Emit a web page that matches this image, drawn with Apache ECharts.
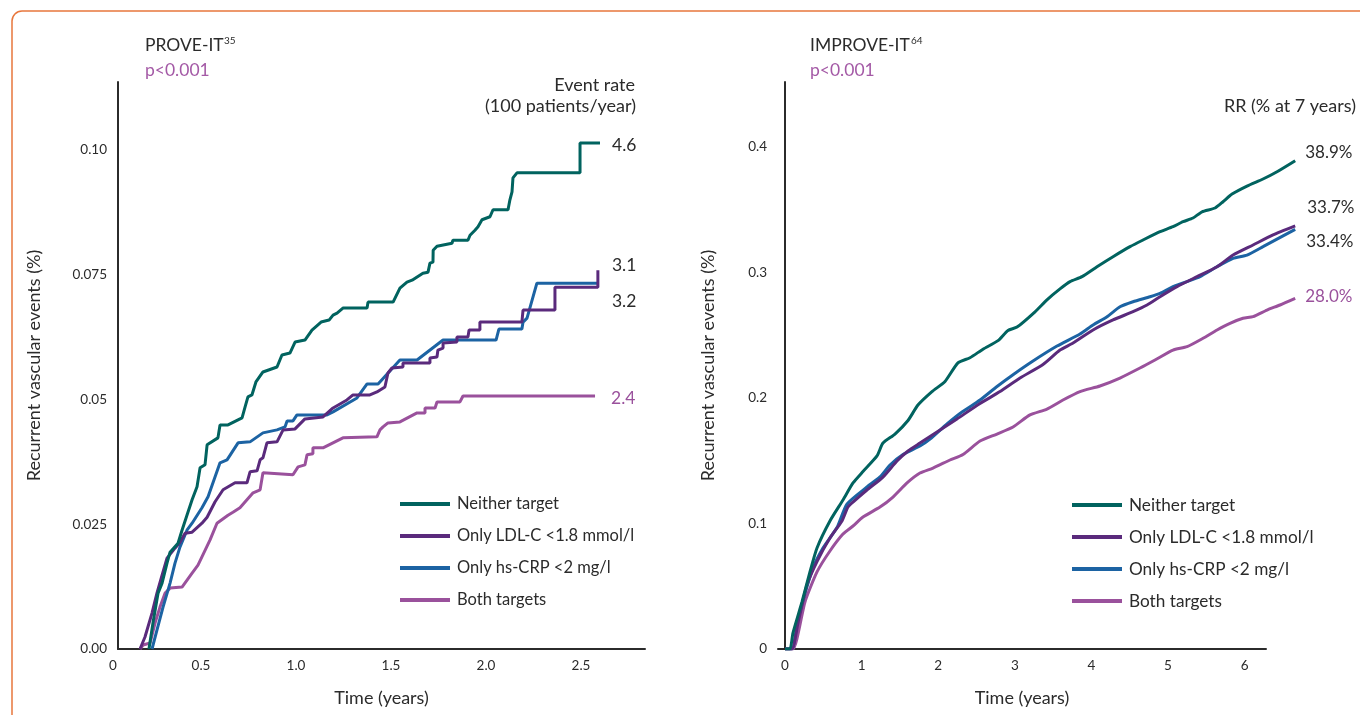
<!DOCTYPE html>
<html>
<head>
<meta charset="utf-8">
<script src="https://cdn.jsdelivr.net/npm/echarts@6/dist/echarts.min.js"></script>
<style>
html,body{margin:0;padding:0;background:#fff;}
#c{width:1360px;height:715px;}
</style>
</head>
<body>
<div id="c"></div>
<script>
// ---------- DATA ----------
const seriesNames = ['Neither target', 'Only LDL-C <1.8 mmol/l', 'Only hs-CRP <2 mg/l', 'Both targets'];

// PROVE-IT (time in years, event rate)
const proveNeitherT = [0.226,0.247,0.274,0.295,0.321,0.337,0.379,0.4,0.426,0.453,0.479,0.495,0.521,0.532,0.589,0.6,0.642,0.716,0.732,0.747,0.768,0.789,0.826,0.9,0.926,0.968,0.995,1.047,1.084,1.132,1.174,1.195,1.216,1.247,1.374,1.379,1.511,1.547,1.584,1.611,1.668,1.695,1.705,1.721,1.722,1.742,1.821,1.826,1.905,1.916,1.942,1.958,1.979,2.021,2.037,2.116,2.126,2.137,2.142,2.163,2.495,2.495,2.6];
const proveNeitherV = [0,0.0052,0.0112,0.0132,0.0172,0.0194,0.0212,0.0238,0.0268,0.0299,0.0325,0.0363,0.0369,0.0409,0.0423,0.0449,0.0449,0.0463,0.0485,0.0505,0.0509,0.0535,0.0555,0.0565,0.0589,0.0593,0.0615,0.0619,0.0639,0.0655,0.0659,0.0669,0.0673,0.0683,0.0683,0.0695,0.0695,0.0723,0.0735,0.0739,0.0753,0.0755,0.0773,0.0775,0.0799,0.0807,0.0813,0.0819,0.0819,0.0829,0.0839,0.0846,0.086,0.0866,0.088,0.088,0.09,0.0916,0.0944,0.0954,0.0954,0.1014,0.1014];

const proveLdlT = [0.179,0.205,0.242,0.268,0.295,0.321,0.363,0.389,0.416,0.453,0.505,0.532,0.574,0.616,0.679,0.742,0.758,0.795,0.811,0.826,0.847,0.9,0.932,0.995,1.047,1.142,1.195,1.268,1.3,1.389,1.426,1.468,1.484,1.505,1.563,1.563,1.705,1.705,1.742,1.747,1.774,1.774,1.847,1.847,1.905,1.911,1.968,1.968,2.189,2.195,2.363,2.363,2.589,2.589];
const proveLdlV = [0,0.0024,0.0072,0.0112,0.0148,0.0182,0.0202,0.0214,0.0232,0.0234,0.0252,0.0264,0.0295,0.0319,0.0333,0.0333,0.0355,0.0357,0.0379,0.0383,0.0413,0.0415,0.0439,0.0441,0.0461,0.0465,0.0483,0.0499,0.0509,0.0509,0.0515,0.0525,0.0553,0.0563,0.0565,0.0573,0.0573,0.0583,0.0585,0.0599,0.0603,0.0613,0.0615,0.0625,0.0625,0.0639,0.0639,0.0655,0.0655,0.0679,0.0679,0.0725,0.0725,0.0759];

const proveCrpT = [0.242,0.268,0.3,0.337,0.363,0.389,0.426,0.453,0.505,0.537,0.6,0.637,0.695,0.758,0.826,0.9,0.942,0.953,0.984,1.005,1.163,1.195,1.321,1.374,1.432,1.547,1.637,1.774,2.053,2.068,2.189,2.195,2.216,2.268,2.589];
const proveCrpV = [0,0.0038,0.0084,0.0132,0.0172,0.0204,0.0238,0.0252,0.0283,0.0305,0.0373,0.0379,0.0413,0.0415,0.0433,0.0439,0.0445,0.0457,0.0457,0.0469,0.0469,0.0475,0.0503,0.0531,0.0531,0.0579,0.0579,0.0619,0.0619,0.0641,0.0641,0.0655,0.0663,0.0733,0.0733];

const proveBothT = [0.179,0.195,0.232,0.258,0.284,0.311,0.337,0.4,0.453,0.484,0.547,0.584,0.642,0.668,0.705,0.774,0.811,0.826,0.984,1.011,1.047,1.058,1.089,1.089,1.142,1.247,1.426,1.442,1.458,1.484,1.547,1.637,1.679,1.679,1.732,1.742,1.863,1.879,2.574];
const proveBothV = [0,0.0008,0.0012,0.0052,0.0084,0.0112,0.0122,0.0124,0.0152,0.0168,0.0218,0.0252,0.0268,0.0274,0.0283,0.0313,0.0319,0.0353,0.0349,0.0365,0.0369,0.0389,0.0391,0.0403,0.0403,0.0423,0.0425,0.0439,0.0445,0.0453,0.0455,0.0473,0.0473,0.0483,0.0483,0.0495,0.0495,0.0507,0.0507];

const proveEndLabels = ['4.6', '3.1', '3.2', '2.4'];

// IMPROVE-IT (time in years, event rate)
const impNeitherT = [0,0.065,0.104,0.222,0.326,0.418,0.587,0.757,0.888,1.018,1.201,1.279,1.436,1.606,1.736,1.919,2.089,2.258,2.415,2.585,2.781,2.911,3.029,3.264,3.42,3.59,3.721,3.877,4.073,4.282,4.504,4.674,4.896,5.065,5.196,5.326,5.444,5.614,5.718,5.836,6.031,6.24,6.423,6.66];
const impNeitherV = [0,0,0.0127,0.0375,0.0614,0.0805,0.102,0.1187,0.1323,0.1414,0.1538,0.1641,0.1713,0.1821,0.1944,0.2051,0.2132,0.228,0.2321,0.2389,0.2457,0.2538,0.2565,0.2687,0.2782,0.2869,0.2927,0.2967,0.3046,0.3126,0.3206,0.3259,0.3325,0.3365,0.3405,0.3434,0.3484,0.3514,0.3564,0.3625,0.3689,0.3745,0.3803,0.3891];

const impLdlT = [0,0.091,0.17,0.287,0.418,0.587,0.744,0.822,0.888,1.07,1.279,1.462,1.606,1.762,1.984,2.245,2.546,2.807,3.068,3.368,3.59,3.76,4.021,4.282,4.543,4.726,4.896,5.117,5.379,5.64,5.849,6.11,6.371,6.66];
const impLdlV = [0,0,0.0207,0.051,0.0697,0.0884,0.102,0.1131,0.1171,0.1267,0.137,0.1498,0.1578,0.1641,0.1729,0.1833,0.1956,0.2051,0.2159,0.2267,0.2382,0.2438,0.2542,0.2622,0.2688,0.2741,0.2807,0.2887,0.2967,0.3046,0.3139,0.3219,0.3299,0.3371];

const impCrpT = [0,0.091,0.17,0.366,0.496,0.679,0.809,1.07,1.24,1.371,1.54,1.762,1.893,2.115,2.311,2.546,2.768,2.977,3.238,3.551,3.851,4.021,4.204,4.373,4.543,4.765,4.896,5.065,5.248,5.418,5.64,5.849,6.031,6.24,6.66];
const impCrpV = [0,0,0.0239,0.0645,0.0805,0.0968,0.1155,0.1291,0.1371,0.1466,0.155,0.1618,0.1673,0.1793,0.1888,0.1984,0.2092,0.2186,0.2295,0.2414,0.251,0.2582,0.2648,0.2727,0.2767,0.2807,0.2834,0.2887,0.2927,0.2967,0.3046,0.3113,0.3139,0.3206,0.3344];

const impBothT = [0,0.104,0.261,0.418,0.587,0.757,0.888,1.018,1.24,1.41,1.593,1.762,1.932,2.154,2.324,2.546,2.768,2.977,3.198,3.42,3.629,3.851,4.112,4.373,4.634,4.83,5.065,5.248,5.457,5.64,5.809,5.979,6.11,6.292,6.462,6.66];
const impBothV = [0,0,0.0375,0.0614,0.0781,0.0916,0.098,0.1052,0.1131,0.1211,0.1323,0.1402,0.1442,0.1506,0.155,0.1657,0.1713,0.1769,0.1865,0.1912,0.1984,0.2051,0.2096,0.2159,0.2239,0.2303,0.2382,0.2409,0.2476,0.2542,0.2595,0.2635,0.2648,0.2701,0.2741,0.2794];

const impEndLabels = ['38.9%', '33.7%', '33.4%', '28.0%'];

// Tick labels
const proveXTicks = [0, 0.5, 1.0, 1.5, 2.0, 2.5];
const proveYTicks = [0, 0.025, 0.05, 0.075, 0.10];
const proveYTickLabels = ['0.00', '0.025', '0.05', '0.075', '0.10'];
const impXTicks = [0, 1, 2, 3, 4, 5, 6];
const impYTicks = [0, 0.1, 0.2, 0.3, 0.4];
const impYTickLabels = ['0', '0.1', '0.2', '0.3', '0.4'];

// ---------- STYLE ----------
const colors = ['#01635f', '#5a2a7c', '#1c63a3', '#9a519c'];
const FONT = 'Lato';
const TXT = '#2b2b2b';
const PVAL = '#a45aa6';

function zip(t, v) { return t.map((x, i) => [x, v[i]]); }

const proveData = [zip(proveNeitherT, proveNeitherV), zip(proveLdlT, proveLdlV), zip(proveCrpT, proveCrpV), zip(proveBothT, proveBothV)];
const impData = [zip(impNeitherT, impNeitherV), zip(impLdlT, impLdlV), zip(impCrpT, impCrpV), zip(impBothT, impBothV)];

const proveLabelOffsets = [[4, 2], [6, -5], [6, 18], [8, 2]];
const impLabelOffsets = [[2, -8], [4, -18], [3, 12], [2, -2]];
const labelColors = [TXT, TXT, TXT, colors[3]];

const series = [];
proveData.forEach((d, i) => {
  series.push({
    name: seriesNames[i], type: 'line', xAxisIndex: 0, yAxisIndex: 0,
    data: d, showSymbol: false, symbol: 'none',
    lineStyle: { width: 3, color: colors[i] }, itemStyle: { color: colors[i] },
    z: 10 - i,
    endLabel: { show: true, formatter: proveEndLabels[i], offset: proveLabelOffsets[i],
      color: labelColors[i], fontSize: 17.5, fontFamily: FONT, align: 'left', verticalAlign: 'middle' }
  });
});
impData.forEach((d, i) => {
  series.push({
    name: seriesNames[i], type: 'line', xAxisIndex: 1, yAxisIndex: 1,
    data: d, showSymbol: false, symbol: 'none', smooth: 0.2,
    lineStyle: { width: 3, color: colors[i] }, itemStyle: { color: colors[i] },
    z: 10 - i,
    endLabel: { show: true, formatter: impEndLabels[i], offset: impLabelOffsets[i],
      color: labelColors[i], fontSize: 17, fontFamily: FONT, align: 'left', verticalAlign: 'middle' }
  });
});

const axisLineStyle = { show: true, lineStyle: { color: '#2b2b2b', width: 2 } };
const tickLabelStyle = { color: TXT, fontSize: 13.5, fontFamily: FONT };
const nameStyle = { color: TXT, fontSize: 18, fontFamily: FONT };

// axis ranges (left axis line sits a little right of time 0)
const proveXMin = 0.063, proveXMax = 2.837;
const impXMin = -0.091, impXMax = 6.279;

const chart = echarts.init(document.getElementById('c'), null, { renderer: 'canvas' });
chart.setOption({
  animation: false,
  backgroundColor: '#fff',
  textStyle: { fontFamily: FONT },
  grid: [
    { left: 118, top: 82, width: 527, height: 567 },
    { left: 778, top: 82, width: 520, height: 567 },
    { left: 778, top: 82, width: 488, height: 567 }
  ],
  xAxis: [
    { type: 'value', gridIndex: 0, min: proveXMin, max: proveXMax,
      axisLine: axisLineStyle, axisTick: { show: false }, splitLine: { show: false },
      axisLabel: Object.assign({}, tickLabelStyle, {
        margin: 10,
        customValues: [proveXMin].concat(proveXTicks.slice(1)),
        formatter: v => v < 0.1 ? '{z|0}' : v.toFixed(1),
        rich: { z: { color: TXT, fontSize: 13.5, fontFamily: FONT, padding: [0, 10, 0, 0] } }
      }),
      name: 'Time (years)', nameLocation: 'middle', nameGap: 40, nameTextStyle: nameStyle },
    { type: 'value', gridIndex: 1, min: impXMin, max: impXMin + (impXMax - impXMin) * 520 / 488, show: false },
    { type: 'value', gridIndex: 2, min: impXMin, max: impXMax,
      axisLine: axisLineStyle, axisTick: { show: false }, splitLine: { show: false },
      axisLabel: Object.assign({}, tickLabelStyle, { margin: 10, customValues: impXTicks, formatter: v => String(v) }),
      name: 'Time (years)', nameLocation: 'middle', nameGap: 40, nameTextStyle: nameStyle }
  ],
  yAxis: [
    { type: 'value', gridIndex: 0, min: 0, max: 0.1136,
      axisLine: axisLineStyle, axisTick: { show: false }, splitLine: { show: false },
      axisLabel: Object.assign({}, tickLabelStyle, { margin: 11, customValues: proveYTicks,
        formatter: v => proveYTickLabels[proveYTicks.findIndex(t => Math.abs(t - v) < 1e-6)] }),
      name: 'Recurrent vascular events (%)', nameLocation: 'middle', nameGap: 75, nameTextStyle: nameStyle },
    { type: 'value', gridIndex: 1, min: 0, max: 0.4518,
      axisLine: axisLineStyle, axisTick: { show: false }, splitLine: { show: false },
      axisLabel: Object.assign({}, tickLabelStyle, { margin: 11, customValues: impYTicks,
        formatter: v => impYTickLabels[impYTicks.findIndex(t => Math.abs(t - v) < 1e-6)] }),
      name: 'Recurrent vascular events (%)', nameLocation: 'middle', nameGap: 61, nameTextStyle: nameStyle },
    { type: 'value', gridIndex: 2, min: 0, max: 0.4518, show: false }
  ],
  legend: [
    { left: 395, top: 489, orient: 'vertical', icon: 'rect', itemWidth: 50, itemHeight: 4, itemGap: 12,
      data: seriesNames, selectedMode: false,
      textStyle: { color: TXT, fontSize: 16.5, fontFamily: FONT, lineHeight: 20, padding: [0, 0, 0, 2] } },
    { left: 1067, top: 490, orient: 'vertical', icon: 'rect', itemWidth: 50, itemHeight: 4, itemGap: 12,
      data: seriesNames, selectedMode: false,
      textStyle: { color: TXT, fontSize: 17.2, fontFamily: FONT, lineHeight: 20, padding: [0, 0, 0, 2] } }
  ],
  graphic: [
    { type: 'rect', shape: { x: 12, y: 11, width: 1420, height: 800, r: 10 },
      style: { fill: 'none', stroke: '#e8773d', lineWidth: 1.5 }, silent: true },
    { type: 'text', style: { x: 145, y: 45, text: 'PROVE-IT', fill: TXT, font: '17.5px Lato', align: 'left', verticalAlign: 'middle' } },
    { type: 'text', style: { x: 224, y: 41, text: '35', fill: TXT, font: '10px Lato', align: 'left', verticalAlign: 'middle' } },
    { type: 'text', style: { x: 145, y: 70, text: 'p<0.001', fill: PVAL, font: '17.5px Lato', align: 'left', verticalAlign: 'middle' } },
    { type: 'text', style: { x: 810, y: 45, text: 'IMPROVE-IT', fill: TXT, font: '17.5px Lato', align: 'left', verticalAlign: 'middle' } },
    { type: 'text', style: { x: 911, y: 41, text: '64', fill: TXT, font: '10px Lato', align: 'left', verticalAlign: 'middle' } },
    { type: 'text', style: { x: 810, y: 70, text: 'p<0.001', fill: PVAL, font: '17.5px Lato', align: 'left', verticalAlign: 'middle' } },
    { type: 'text', style: { x: 635, y: 85, text: 'Event rate', fill: TXT, font: '18px Lato', align: 'right', verticalAlign: 'middle' } },
    { type: 'text', style: { x: 636, y: 106, text: '(100 patients/year)', fill: TXT, font: '18px Lato', align: 'right', verticalAlign: 'middle' } },
    { type: 'text', style: { x: 1356, y: 106, text: 'RR (% at 7 years)', fill: TXT, font: '18px Lato', align: 'right', verticalAlign: 'middle' } }
  ],
  series: series
});
</script>
</body>
</html>
